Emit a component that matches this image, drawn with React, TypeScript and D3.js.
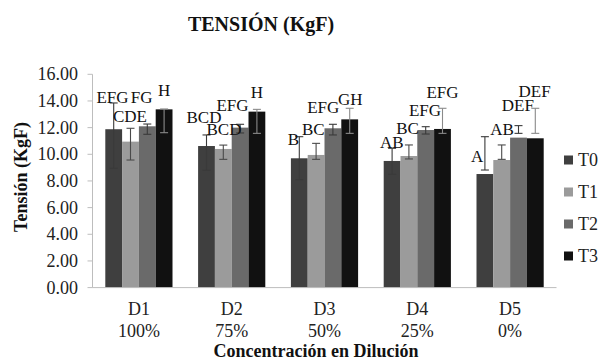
import React from "react";
import * as d3 from "d3";

// Dilution groups and the two-line category labels
const dilutions = ["D1", "D2", "D3", "D4", "D5"];
const percents = ["100%", "75%", "50%", "25%", "0%"];
const treatments = ["T0", "T1", "T2", "T3"];

// Mean tension (KgF) per treatment, one value per dilution
const t0Values = [11.88, 10.62, 9.7, 9.5, 8.52];
const t1Values = [10.95, 10.4, 9.95, 9.87, 9.57];
const t2Values = [12.1, 12.0, 11.95, 11.82, 11.25];
const t3Values = [13.37, 13.2, 12.62, 11.9, 11.2];

// Error bar extents (low / high) per treatment
const t0Low = [8.95, 8.8, 8.1, 8.5, 8.82];
const t0High = [13.85, 11.45, 11.32, 10.45, 11.32];
const t1Low = [9.57, 9.62, 9.62, 9.65, 9.62];
const t1High = [11.95, 10.69, 10.82, 10.7, 10.7];
const t2Low = [11.5, 11.6, 11.45, 11.52, 11.57];
const t2High = [12.27, 12.25, 12.25, 12.07, 12.15];
const t3Low = [11.62, 11.57, 11.57, 11.57, 11.57];
const t3High = [13.4, 13.37, 13.45, 13.45, 13.45];

// Significance letters per treatment
const t0Letters = ["EFG", "BCD", "B", "AB", "A"];
const t1Letters = ["CDE", "BCD", "BC", "BC", "AB"];
const t2Letters = ["FG", "EFG", "EFG", "EFG", "DEF"];
const t3Letters = ["H", "H", "GH", "EFG", "DEF"];

// Y axis ticks
const yTicks = [0, 2, 4, 6, 8, 10, 12, 14, 16];

// Letter placement offsets (px) from each bar's center / top
const letterDx = [
  [-1.2, -2.5, -6, -0.4, -7.8],
  [-0.5, 0.7, -2.8, -1.4, 0.4],
  [-5.6, -7.6, -9.6, -0.7, -0.6],
  [0, 0, 0.6, 0, -0.7],
];
const letterDy = [
  [-26.5, -23.3, -13.3, -12.7, -12.3],
  [-19.9, -14, -20, -22, -25],
  [-23.6, -16.6, -15, -14, -26.9],
  [-13.4, -13.3, -14.4, -30.7, -41.6],
];

const barColors = ["#3f3f3f", "#9b9b9b", "#6a6a6a", "#111111"];
const errColors = ["#3a3a3a", "#4a4a4a", "#3a3a3a", "#8a8a8a"];

const W = 616;
const H = 361;
const plotLeft = 92.5;
const plotRight = 556.5;
const plotTop = 74.3;
const plotBottom = 287.6;
const serif = "Liberation Serif";

export default function App() {
  const values = [t0Values, t1Values, t2Values, t3Values];
  const lows = [t0Low, t1Low, t2Low, t3Low];
  const highs = [t0High, t1High, t2High, t3High];
  const letters = [t0Letters, t1Letters, t2Letters, t3Letters];

  const y = d3.scaleLinear().domain([0, 16]).range([plotBottom, plotTop]);
  const x0 = d3.scaleBand<string>().domain(dilutions).range([plotLeft, plotRight]).padding(0);
  const x1 = d3
    .scaleBand<string>()
    .domain(treatments)
    .range([0, x0.bandwidth()])
    .paddingInner(0)
    .paddingOuter(0.762);
  const bw = x1.bandwidth();
  const cap = 4;

  return (
    <svg
      width={W}
      height={H}
      viewBox={`0 0 ${W} ${H}`}
      style={{ position: "absolute", left: 0, top: 0, background: "#fff" }}
    >
      <rect x={0} y={0} width={W} height={H} fill="#fff" />
      <g fontFamily={serif}>
        <text x={261} y={31} textAnchor="middle" fontSize={20} fontWeight="bold" fill="#111">
          TENSIÓN (KgF)
        </text>

        {/* y axis */}
        <line x1={plotLeft} x2={plotLeft} y1={plotTop} y2={plotBottom} stroke="#bdbdbd" />
        {yTicks.map((t) => (
          <g key={t}>
            <line x1={plotLeft - 5} x2={plotLeft} y1={y(t)} y2={y(t)} stroke="#bdbdbd" />
            <text x={78} y={y(t)} dy="0.34em" textAnchor="end" fontSize={18} fill="#222">
              {t.toFixed(2)}
            </text>
          </g>
        ))}
        <text
          transform={`translate(27,177) rotate(-90)`}
          textAnchor="middle"
          fontSize={18}
          fontWeight="bold"
          fill="#111"
        >
          Tensión (KgF)
        </text>

        {/* bars */}
        {treatments.map((t, si) =>
          dilutions.map((d, ci) => {
            const bx = (x0(d) as number) + (x1(t) as number);
            const v = values[si][ci];
            return (
              <rect
                key={`${t}-${d}`}
                x={bx}
                y={y(v)}
                width={bw}
                height={y(0) - y(v)}
                fill={barColors[si]}
              />
            );
          })
        )}

        {/* x axis line */}
        <line x1={plotLeft} x2={plotRight} y1={plotBottom} y2={plotBottom} stroke="#bdbdbd" />

        {/* error bars */}
        {treatments.map((t, si) =>
          dilutions.map((d, ci) => {
            const cx = (x0(d) as number) + (x1(t) as number) + bw / 2;
            const lo = y(lows[si][ci]);
            const hi = y(highs[si][ci]);
            return (
              <g key={`e-${t}-${d}`} stroke={errColors[si]} strokeWidth={1.1}>
                <line x1={cx} x2={cx} y1={lo} y2={hi} />
                <line x1={cx - cap} x2={cx + cap} y1={lo} y2={lo} />
                <line x1={cx - cap} x2={cx + cap} y1={hi} y2={hi} />
              </g>
            );
          })
        )}

        {/* significance letters */}
        {treatments.map((t, si) =>
          dilutions.map((d, ci) => {
            const cx = (x0(d) as number) + (x1(t) as number) + bw / 2;
            const v = values[si][ci];
            return (
              <text
                key={`l-${t}-${d}`}
                x={cx + letterDx[si][ci]}
                y={y(v) + letterDy[si][ci]}
                textAnchor="middle"
                fontSize={17}
                fill="#111"
              >
                {letters[si][ci]}
              </text>
            );
          })
        )}

        {/* category labels */}
        {dilutions.map((d, i) => {
          const cx = (x0(d) as number) + x0.bandwidth() / 2;
          return (
            <g key={`c-${d}`}>
              <text x={cx} y={315} textAnchor="middle" fontSize={18} fill="#222">
                {d}
              </text>
              <text x={cx} y={337} textAnchor="middle" fontSize={18} fill="#222">
                {percents[i]}
              </text>
            </g>
          );
        })}
        <text x={316} y={357} textAnchor="middle" fontSize={18} fontWeight="bold" fill="#111">
          Concentración en Dilución
        </text>

        {/* legend */}
        {treatments.map((t, i) => {
          const ly = 160 + i * 32;
          return (
            <g key={`lg-${t}`}>
              <rect x={564} y={ly - 4.5} width={9} height={9} fill={barColors[i]} />
              <text x={578} y={ly} dy="0.35em" fontSize={18} fill="#222">
                {t}
              </text>
            </g>
          );
        })}
      </g>
    </svg>
  );
}
